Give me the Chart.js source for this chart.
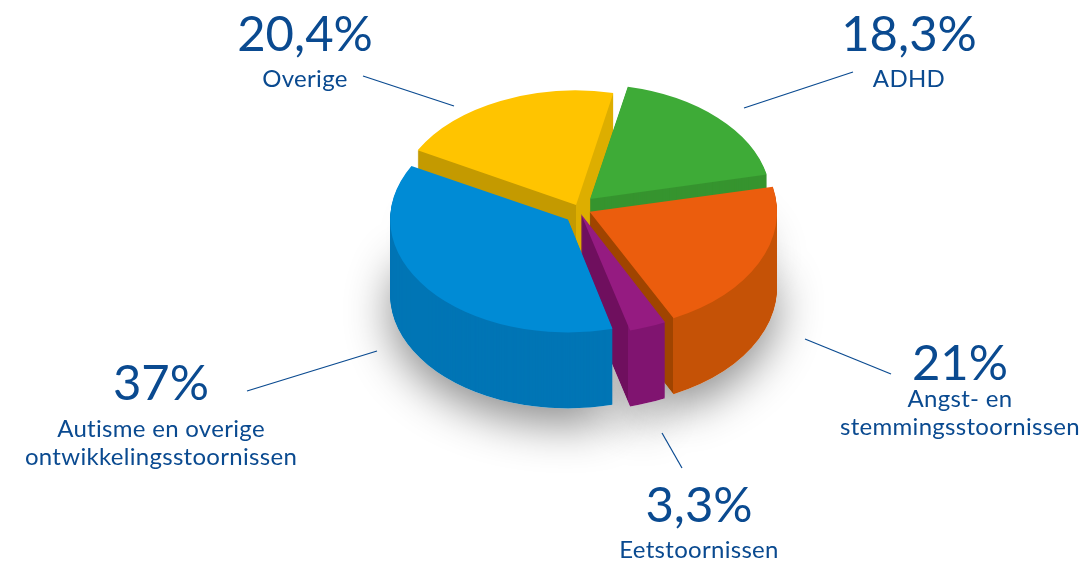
<!DOCTYPE html>
<html>
<head>
<meta charset="utf-8">
<style>
  html, body { margin: 0; padding: 0; background: #fff; }
  #wrap { width: 1089px; height: 561px; }
</style>
<script src="https://cdn.jsdelivr.net/npm/chart.js@4"></script>
</head>
<body>
<div id="wrap"><canvas id="pieChart" width="1089" height="561"></canvas></div>
<script>
// slices run clockwise, starting at the back left so the library paints them back to front
const categories = ["Overige", "ADHD", "Angst- en stemmingsstoornissen", "Eetstoornissen", "Autisme en overige ontwikkelingsstoornissen"];
const values = [20.4, 18.3, 21, 3.3, 37];
const percentLabels = ["20,4%", "18,3%", "21%", "3,3%", "37%"];
const nameLines = [["Overige"], ["ADHD"], ["Angst- en", "stemmingsstoornissen"], ["Eetstoornissen"], ["Autisme en overige", "ontwikkelingsstoornissen"]];

const topColors = ["#FFC400", "#3EAB37", "#EB5D0D", "#951B81", "#008BD5"];
const wallColors = ["#C49A00", "#36942F", "#A04400", "#6F0F5E", "#0075B5"];
const wallColors2 = ["#DDAE00", "#36942F", "#C55206", "#801470", "#0075B5"];
const wallSplit = ["center", null, "end", "end", null];
const explode = [28, 80, 56, 32, 56];
// the original has some perspective, so slices are not quite the same size or in line
const radiusTrim = [-4, -5, 3, 0, -10];
const nudgeX = [1, -2, -1, 0, 1];
const nudgeY = [0, -1, -1, 0, 5];

const centerX = 578, centerY = 209, radius = 184, squash = 0.635, depth = 76;
const textColor = "#0A4A90";
const fontName = "Lato, sans-serif";

// label anchors: [x, percent baseline, first name baseline]
const labelPos = [[305, 51, 87], [909, 51, 87], [960, 380, 407], [699, 522, 558], [161, 400, 437]];
const leaders = [[363, 76, 454, 106], [853, 72, 744, 108], [805, 339, 891, 374], [662, 433, 682, 468], [247, 391, 377, 351]];

let pivotY = 0;

function flatten(ctx, shiftY) {
    ctx.translate(0, centerY + shiftY);
    ctx.scale(1, squash);
    ctx.translate(0, -pivotY);
}

function wallFill(ctx, el, i) {
    if (!wallSplit[i]) return wallColors[i];
    const x = wallSplit[i] === "center" ? el.x : el.x + Math.cos(el.endAngle) * el.outerRadius;
    const g = ctx.createLinearGradient(0, 0, 1089, 0);
    const stop = x / 1089;
    g.addColorStop(0, wallColors[i]);
    g.addColorStop(stop, wallColors[i]);
    g.addColorStop(stop, wallColors2[i]);
    g.addColorStop(1, wallColors2[i]);
    return g;
}

function drawWith(el, ctx, fill) {
    const saved = el.options;
    el.options = {
        offset: saved.offset, spacing: 0, backgroundColor: fill, borderColor: fill,
        borderWidth: 0, borderAlign: "center", borderRadius: 0, circular: true
    };
    el.draw(ctx);
    el.options = saved;
}

const pie3d = {
    id: "pie3d",
    beforeDatasetsDraw(chart) {
        const ctx = chart.ctx;
        const arcs = chart.getDatasetMeta(0).data;
        const area = chart.chartArea;
        pivotY = (area.top + area.bottom) / 2;
        arcs.forEach((el, i) => {
            el.outerRadius = radius + radiusTrim[i];
            el.x = (area.left + area.right) / 2 + nudgeX[i];
            el.y = pivotY + nudgeY[i] / squash;
        });

        // soft shadow below the pie
        arcs.forEach((el) => {
            ctx.save();
            flatten(ctx, depth);
            ctx.shadowColor = "rgba(0,0,0,0.45)";
            ctx.shadowBlur = 45;
            ctx.shadowOffsetY = 16;
            drawWith(el, ctx, "#ffffff");
            ctx.restore();
        });

        // side walls: the same arcs stacked downwards
        arcs.forEach((el, i) => {
            const fill = wallFill(ctx, el, i);
            for (let d = depth; d > 0; d--) {
                ctx.save();
                flatten(ctx, d);
                drawWith(el, ctx, fill);
                ctx.restore();
            }
        });

        ctx.save();
        flatten(ctx, 0);
    },
    afterDatasetsDraw(chart) {
        chart.ctx.restore();
    },
    afterDraw(chart) {
        const ctx = chart.ctx;
        ctx.save();
        ctx.strokeStyle = textColor;
        ctx.lineWidth = 1.2;
        leaders.forEach((l) => {
            ctx.beginPath();
            ctx.moveTo(l[0], l[1]);
            ctx.lineTo(l[2], l[3]);
            ctx.stroke();
        });
        ctx.fillStyle = textColor;
        ctx.textAlign = "center";
        ctx.textBaseline = "alphabetic";
        percentLabels.forEach((txt, i) => {
            const p = labelPos[i];
            ctx.font = "49px " + fontName;
            ctx.letterSpacing = "0px";
            ctx.fillText(txt, p[0], p[1]);
            ctx.font = "24px " + fontName;
            ctx.letterSpacing = "0.3px";
            nameLines[i].forEach((line, n) => ctx.fillText(line, p[0], p[2] + n * 28));
        });
        ctx.restore();
    }
};

new Chart(document.getElementById("pieChart").getContext("2d"), {
    type: "pie",
    data: {
        labels: categories,
        datasets: [{
            data: values,
            backgroundColor: topColors,
            borderWidth: 0,
            offset: explode,
            radius: radius,
            clip: false
        }]
    },
    options: {
        responsive: false,
        animation: false,
        rotation: -61.5,
        layout: { padding: { left: 2 * centerX - 1089 } },
        plugins: {
            legend: { display: false },
            tooltip: { enabled: false }
        }
    },
    plugins: [pie3d]
});
</script>
</body>
</html>
